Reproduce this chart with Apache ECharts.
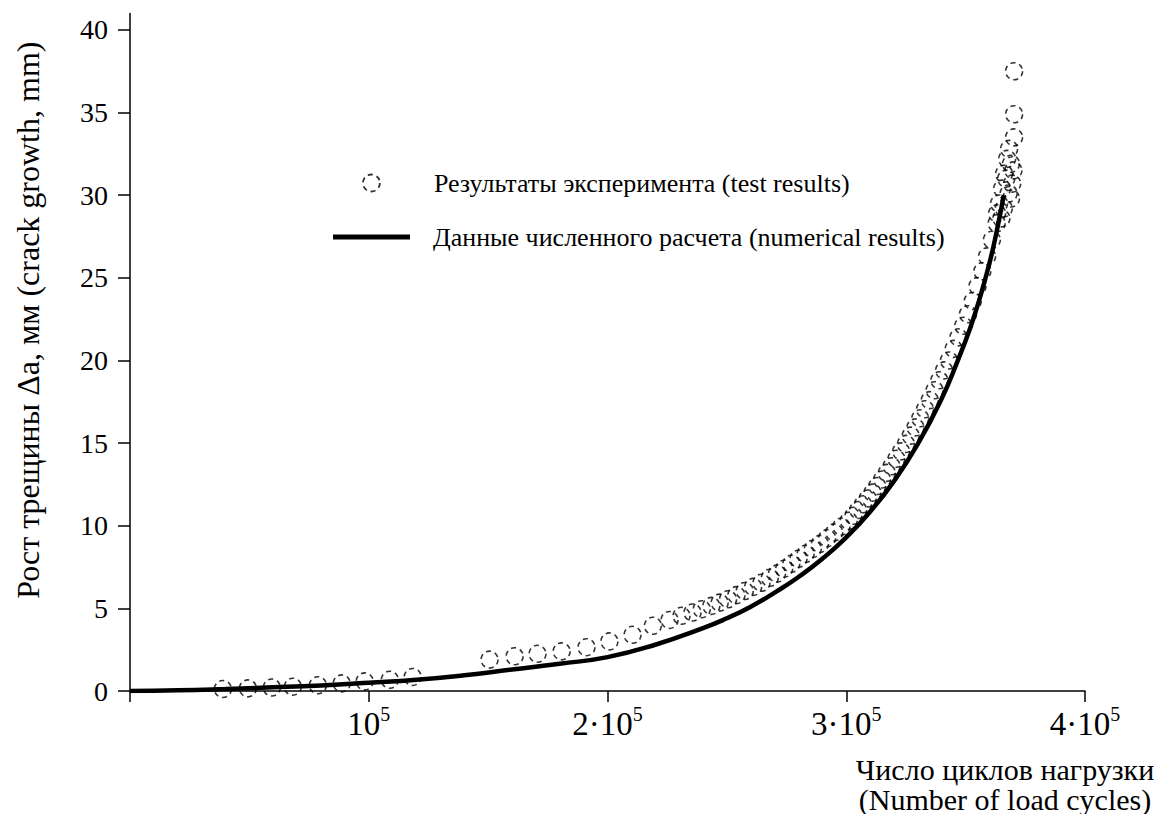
<!DOCTYPE html>
<html>
<head>
<meta charset="utf-8">
<script src="https://cdn.jsdelivr.net/npm/echarts@6/dist/echarts.min.js"></script>
<style>
html,body{margin:0;padding:0;background:#fff;}
#chart{width:1163px;height:814px;}
</style>
</head>
<body>
<div id="chart"></div>
<script>
// ---- data ----
const xTicks = [0, 100000, 200000, 300000, 400000];
const xLabelValues = [100000, 200000, 300000, 400000];
const yTicks = [0, 5, 10, 15, 20, 25, 30, 35, 40];

const seriesNames = ['Результаты эксперимента (test results)', 'Данные численного расчета (numerical results)'];
const xAxisTitle = 'Число циклов нагрузки\n(Number of load cycles)';
const yAxisTitle = 'Рост трещины Δа, мм (crack growth, mm)';

// numerical results (solid line)
const numX = [0, 20000, 40000, 60000, 80000, 100000, 120000, 140000, 160000, 180000, 200000, 220000, 240000, 250000, 260000, 270000, 280000, 290000, 300000, 310000, 320000, 330000, 340000, 347000, 352000, 356000, 360000, 363000, 366000];
const numY = [0, 0.04, 0.12, 0.22, 0.34, 0.5, 0.68, 0.95, 1.3, 1.65, 2.05, 2.8, 3.8, 4.4, 5.1, 5.95, 6.9, 8.0, 9.3, 10.85, 12.7, 14.95, 17.7, 20.1, 22.0, 23.8, 25.9, 27.8, 30.0];

// test results (dashed circles)
const testX = [38900, 49400, 59400, 68200, 78700, 88700, 98300, 108800, 118400,
  150600, 161100, 170700, 180800, 191200, 200800, 210500, 219000, 226000, 231000, 235600, 239500, 243500, 247000, 250500, 254000, 257500, 261000, 264500, 268000, 271000, 274000, 277000, 280000, 283000, 286000, 289000, 292000, 295000, 298000,
  301000, 303000, 305000, 307000, 309000, 311000, 313000, 315000, 317000, 319000, 321000, 323000, 325000, 327000, 329000, 331000, 333000, 335000, 337000, 339000, 341000, 343000, 345000, 347000, 349000, 351000, 353000, 355000, 357000, 359000, 361000, 363000,
  363200, 364000, 365300, 366100, 368200, 367400, 369000, 369500, 368000, 369000, 366000, 365000, 367000, 370000, 370300, 370300, 370300];
const testY = [0.12, 0.16, 0.21, 0.26, 0.35, 0.46, 0.58, 0.68, 0.85,
  1.9, 2.1, 2.25, 2.4, 2.65, 3.0, 3.4, 3.95, 4.3, 4.55, 4.75, 4.95, 5.15, 5.35, 5.55, 5.8, 6.05, 6.3, 6.55, 6.85, 7.1, 7.4, 7.7, 8.0, 8.3, 8.6, 8.9, 9.25, 9.6, 9.95,
  10.3, 10.6, 10.95, 11.3, 11.65, 12.0, 12.4, 12.8, 13.2, 13.6, 14.05, 14.5, 14.95, 15.45, 15.95, 16.5, 17.05, 17.6, 18.2, 18.8, 19.4, 20.0, 20.7, 21.4, 22.1, 22.8, 23.6, 24.5, 25.4, 26.3, 27.3, 28.3,
  28.9, 29.5, 30.4, 31.3, 32.8, 32.2, 31.9, 30.7, 30.1, 29.8, 29.2, 28.6, 31.0, 31.5, 33.5, 34.9, 37.5];

// ---- chart ----
const serif = '"Liberation Serif", "DejaVu Serif", serif';
const numData = numX.map((x, i) => [x, numY[i]]);
const testData = testX.map((x, i) => [x, testY[i]]);
const dashed = [5, 4];

function xFmt(v) {
  const k = Math.round(v / 100000);
  if (k === 1) return '{a|10}{s|5}';
  return '{a|' + k + '·10}{s|5}';
}

const chart = echarts.init(document.getElementById('chart'), null, {renderer: 'svg'});
chart.setOption({
  animation: false,
  backgroundColor: '#fff',
  grid: {left: 130, right: 78, top: 13.4, bottom: 119, containLabel: false},
  xAxis: {
    type: 'value', min: 0, max: 400000,
    axisLine: {show: true, onZero: false, lineStyle: {color: '#000', width: 1.5}},
    axisTick: {show: true, length: 11, customValues: xTicks, lineStyle: {color: '#000', width: 1.5}},
    splitLine: {show: false},
    axisLabel: {
      customValues: xLabelValues, margin: 13, formatter: xFmt,
      rich: {
        a: {fontFamily: serif, fontSize: 33, color: '#000', lineHeight: 36, verticalAlign: 'bottom'},
        s: {fontFamily: serif, fontSize: 20, color: '#000', lineHeight: 36, verticalAlign: 'top'}
      }
    },
    name: xAxisTitle, nameLocation: 'end', nameGap: -80, nameMoveOverlap: false,
    nameTextStyle: {fontFamily: serif, fontSize: 30, color: '#000', align: 'center', verticalAlign: 'top', lineHeight: 30, padding: [63, 0, 0, 0]}
  },
  yAxis: {
    type: 'value', min: 0, max: 41,
    axisLine: {show: true, onZero: false, lineStyle: {color: '#000', width: 1.5}},
    axisTick: {show: true, length: 12, customValues: yTicks, lineStyle: {color: '#000', width: 1.5}},
    splitLine: {show: false},
    axisLabel: {customValues: yTicks, margin: 22, fontFamily: serif, fontSize: 28, color: '#000'},
    name: yAxisTitle, nameLocation: 'middle', nameGap: 86, nameMoveOverlap: false,
    nameTextStyle: {fontFamily: serif, fontSize: 32, color: '#000', padding: [0, 0, 0, 64]}
  },
  legend: [
    {
      data: [{name: seriesNames[0], icon: 'circle', itemStyle: {color: 'rgba(255,255,255,0)', borderColor: '#000', borderWidth: 1.8, borderType: dashed}}],
      left: 362, top: 170, padding: 0,
      itemWidth: 17, itemHeight: 17,
      textStyle: {fontFamily: serif, fontSize: 26, color: '#000', padding: [0, 0, 0, 49]}
    },
    {
      data: [{name: seriesNames[1], icon: 'rect', itemStyle: {color: '#000', borderWidth: 0}}],
      left: 333, top: 224, padding: 0,
      itemWidth: 77, itemHeight: 5,
      textStyle: {fontFamily: serif, fontSize: 26, color: '#000', padding: [0, 0, 0, 18]}
    }
  ],
  series: [
    {
      name: seriesNames[0], type: 'scatter', data: testData, symbol: 'circle', symbolSize: 17,
      itemStyle: {color: 'rgba(255,255,255,0)', borderColor: '#000', borderWidth: 1.6, borderType: dashed},
      z: 3
    },
    {
      name: seriesNames[1], type: 'line', data: numData, smooth: 0.5, symbol: 'none', showSymbol: false,
      lineStyle: {color: '#000', width: 4.5}, itemStyle: {color: '#000'},
      z: 2
    }
  ]
});
</script>
</body>
</html>
